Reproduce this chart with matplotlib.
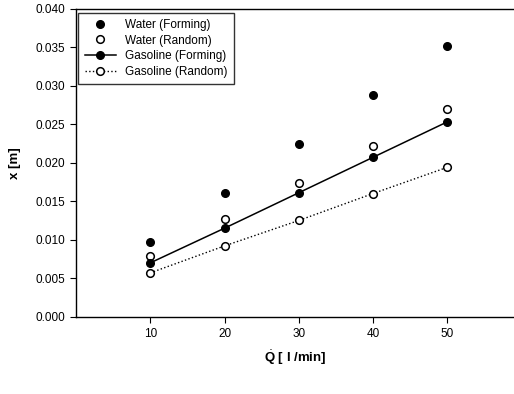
import matplotlib.pyplot as plt

# flow rate [l/min]
q = [10, 20, 30, 40, 50]

# jet penetration x [m]
water_forming = [0.0097, 0.0161, 0.0224, 0.0288, 0.0352]
water_random = [0.0079, 0.0127, 0.0174, 0.0222, 0.0270]
gasoline_forming = [0.0070, 0.0115, 0.0161, 0.0207, 0.0253]
gasoline_random = [0.0057, 0.0092, 0.0125, 0.0160, 0.0194]

plt.rcParams['font.family'] = ['Liberation Sans', 'DejaVu Sans']
plt.rcParams['mathtext.fontset'] = 'custom'
plt.rcParams['mathtext.rm'] = 'Liberation Sans'
plt.rcParams['mathtext.bf'] = 'Liberation Sans:bold'

fig = plt.figure(figsize=(5.14, 3.94), dpi=100)
ax = fig.add_axes([0.148, 0.196, 0.852, 0.782])

ms = 5.5
ax.plot(q, water_forming, 'o', color='black', ms=ms, label='Water (Forming)')
ax.plot(q, water_random, 'o', mfc='white', mec='black', mew=1.1, ms=ms,
        label='Water (Random)')
ax.plot(q, gasoline_forming, '-o', color='black', lw=1.1, ms=ms,
        label='Gasoline (Forming)')
ax.plot(q, gasoline_random, ':o', color='black', lw=1.0, mfc='white',
        mec='black', mew=1.1, ms=ms, label='Gasoline (Random)')

ax.set_xlim(0, 59)
ax.set_ylim(0, 0.040)
ax.set_xticks(q)
ax.set_yticks([0.000, 0.005, 0.010, 0.015, 0.020, 0.025, 0.030, 0.035, 0.040])
ax.yaxis.set_major_formatter(plt.FormatStrFormatter('%.3f'))
ax.tick_params(direction='out', length=4, width=0.8, labelsize=8.5, pad=4)

ax.spines['right'].set_visible(False)
for s in ['left', 'bottom', 'top']:
    ax.spines[s].set_linewidth(1.0)

ax.set_xlabel(r'$\dot{\mathbf{Q}}$ [ l /min]', fontsize=9.5, fontweight='bold',
              labelpad=6)
ax.set_ylabel('x [m]', fontsize=9.5, fontweight='bold', labelpad=10)

leg = ax.legend(loc='upper left', bbox_to_anchor=(0.0, 0.995), fontsize=8.5,
                frameon=True, fancybox=False, edgecolor='black',
                handlelength=2.6, borderpad=0.55, labelspacing=0.3,
                handletextpad=0.8, borderaxespad=0.2)
leg.get_frame().set_linewidth(1.0)

fig.savefig('out.png', dpi=100)
